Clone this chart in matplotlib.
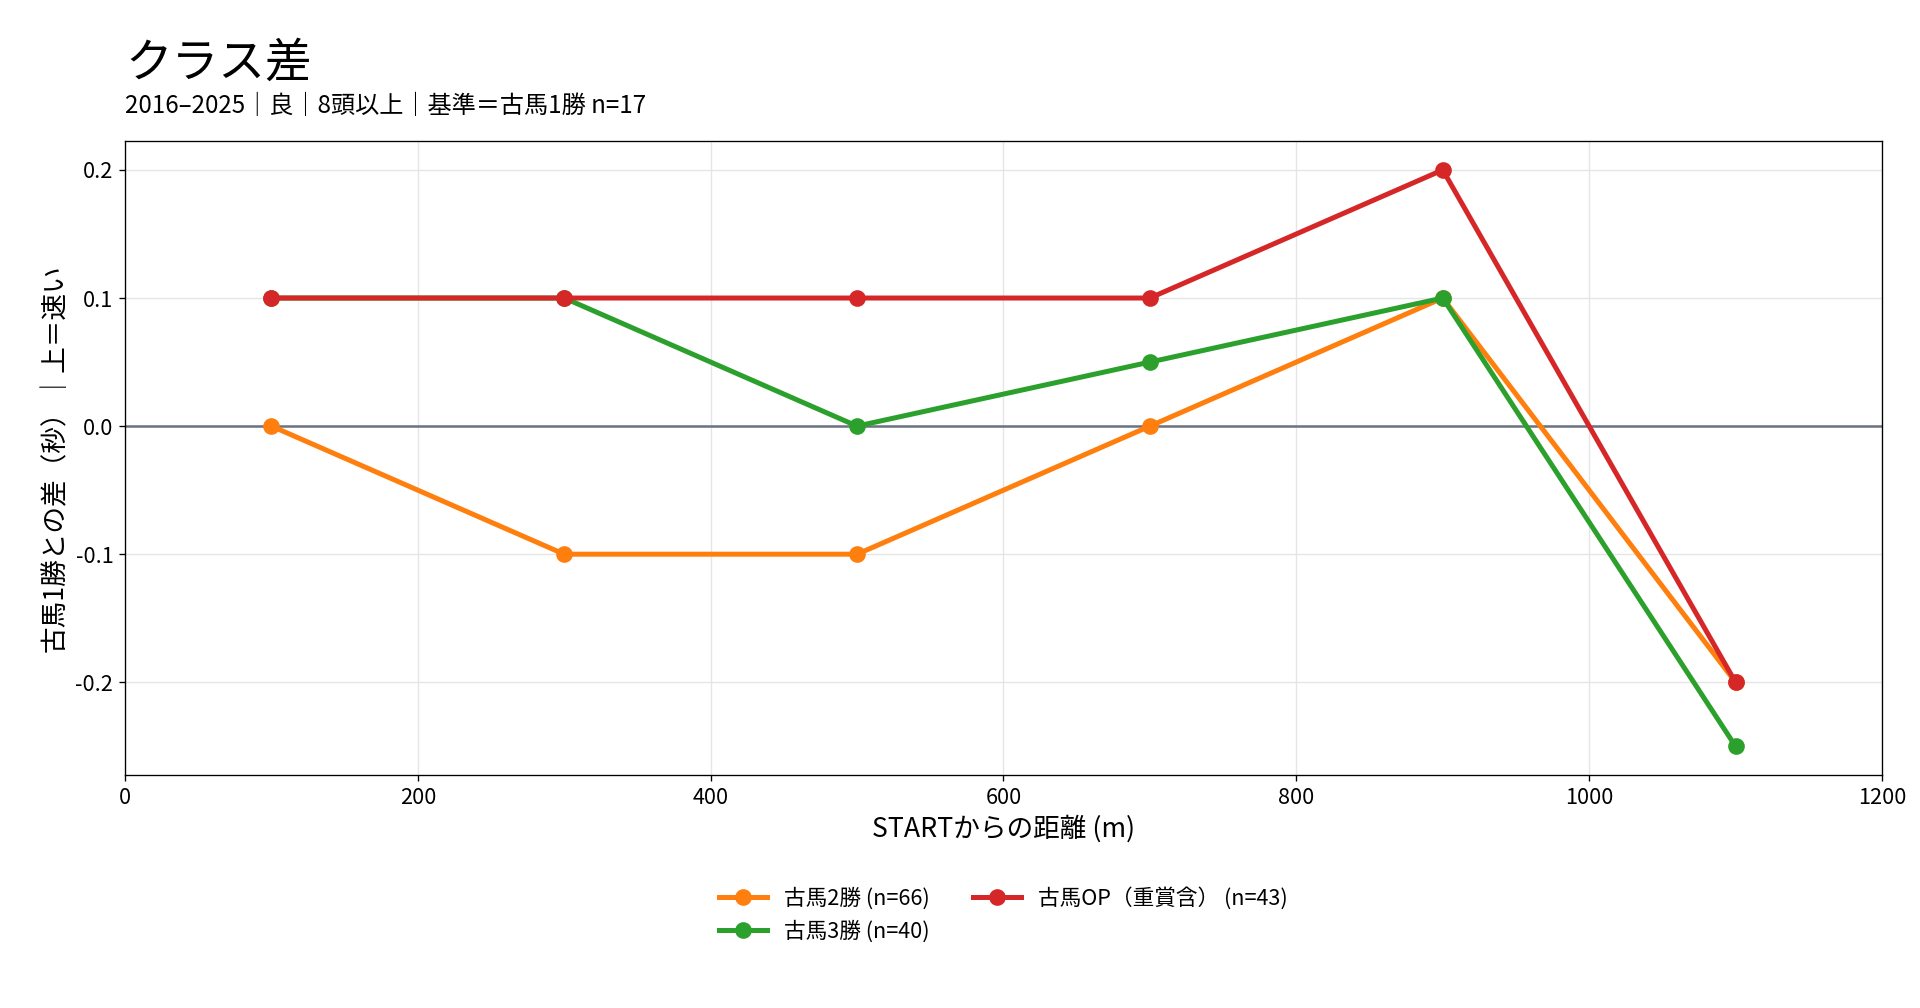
import matplotlib
matplotlib.use("Agg")
import matplotlib.pyplot as plt

plt.rcParams['font.family'] = ['Noto Sans CJK JP', 'DejaVu Sans']
plt.rcParams['axes.unicode_minus'] = False

distance = [100, 300, 500, 700, 900, 1100]
series_names = ["古馬2勝 (n=66)", "古馬3勝 (n=40)", "古馬OP（重賞含） (n=43)"]
win2 = [0.0, -0.1, -0.1, 0.0, 0.1, -0.2]
win3 = [0.1, 0.1, 0.0, 0.05, 0.1, -0.25]
open_cls = [0.1, 0.1, 0.1, 0.1, 0.2, -0.2]
colors = ["#ff7f0e", "#2ca02c", "#d62728"]

title = "クラス差"
subtitle = "2016–2025｜良｜8頭以上｜基準＝古馬1勝 n=17"
xlabel = "STARTからの距離 (m)"
ylabel = "古馬1勝との差（秒）｜上＝速い"

fig = plt.figure(figsize=(16, 8.4), dpi=120)
ax = fig.add_axes([0.0651, 0.231, 0.9151, 0.629])

ax.axhline(0, color="#6b7280", lw=1.5, zorder=1)
for vals, name, c in zip([win2, win3, open_cls], series_names, colors):
    ax.plot(distance, vals, color=c, lw=3.0, marker="o", markersize=9, label=name, zorder=3)

ax.set_xlim(0, 1200)
ax.set_xticks([0, 200, 400, 600, 800, 1000, 1200])
ax.set_yticks([-0.2, -0.1, 0.0, 0.1, 0.2])
ax.grid(True, color="#e5e5e5", lw=0.8)
ax.set_axisbelow(True)
ax.tick_params(labelsize=13)
ax.set_xlabel(xlabel, fontsize=16)
ax.set_ylabel(ylabel, fontsize=16)

ax.legend(loc="upper center", bbox_to_anchor=(0.5, -0.145), ncol=2, frameon=False,
          fontsize=13, handlelength=2.2, labelspacing=0.5, columnspacing=2.0)

fig.text(0.0651, 0.9236, title, fontsize=28, ha="left", va="baseline")
fig.text(0.0651, 0.888, subtitle, fontsize=14.5, ha="left", va="baseline")

fig.savefig("out.png", dpi=120)
